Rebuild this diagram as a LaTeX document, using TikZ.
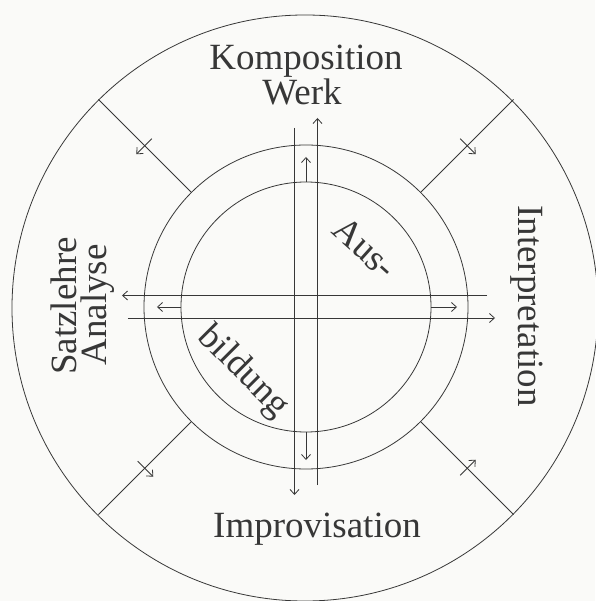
\documentclass[tikz,border=0pt]{standalone}
\usepackage{fontspec}
\setmainfont{Liberation Serif}
\usetikzlibrary{arrows.meta,calc}
\definecolor{ink}{RGB}{55,55,55}
\definecolor{paper}{RGB}{250,250,248}
\begin{document}
\begin{tikzpicture}[x=1pt,y=1pt,
  ln/.style={draw=ink, line width=0.8pt},
  arr/.style={ln, -{Straight Barb[length=5pt,width=9pt,line width=0.8pt]}},
  lbl/.style={font=\fontsize{37}{40}\selectfont, text=ink, inner sep=0pt},
]
\fill[paper] (-306,-294) rectangle (289,307);
\useasboundingbox (-306,-294) rectangle (289,307);

% circles
\draw[ln] (0,0) circle (125);
\draw[ln] (0,0) circle (162);
\draw[ln] (-1,-1) circle (293);

% cross lines
\coordinate (vlT) at (-11.5,179);  \coordinate (vlB) at (-11.5,-188);
\coordinate (vrT) at (11.5,189);   \coordinate (vrB) at (11.5,-178);
\coordinate (htL) at (-184,11.5);  \coordinate (htR) at (181,11.5);
\coordinate (hbL) at (-178,-11);   \coordinate (hbR) at (189,-11);
\draw[arr] (vlT) -- (vlB);
\draw[arr] (vrB) -- (vrT);
\draw[arr] (htR) -- (htL);
\draw[arr] (hbL) -- (hbR);

% small arrows from the inner circle
\coordinate (iN) at (0,125);  \coordinate (sN) at (0,150);
\coordinate (iS) at (0,-125); \coordinate (sS) at (0,-153);
\coordinate (iW) at (-125,0); \coordinate (sW) at (-149,0);
\coordinate (iE) at (125,0);  \coordinate (sE) at (151,0);
\draw[arr] (iN) -- (sN);
\draw[arr] (iS) -- (sS);
\draw[arr] (iW) -- (sW);
\draw[arr] (iE) -- (sE);

% diagonal spokes with crossing ticks
\foreach \a/\t in {135/225, 45/315, 225/315, 315/45}{
  \coordinate (m\a) at (\a:162);
  \coordinate (o\a) at (\a:293.5);
  \draw[ln] (m\a) -- (o\a);
  \coordinate (p\a) at (\a:228);
  \coordinate (ts\a) at ($(p\a)+(\t+180:10)$);
  \coordinate (te\a) at ($(p\a)+(\t:12)$);
  \draw[arr] (ts\a) -- (te\a);
}

% labels
\node[lbl, anchor=base] (komp) at (0,237) {Komposition};
\node[lbl, anchor=base] (werk) at (-4,202) {Werk};
\node[lbl, anchor=base] (impro) at (11,-230) {Improvisation};
\node[lbl, anchor=base, rotate=90] (satz) at (-229,1) {Satzlehre};
\node[lbl, anchor=base, rotate=90] (ana) at (-199,2) {Analyse};
\node[lbl, anchor=base, rotate=-90] (interp) at (212,1) {Interpretation};
\node[lbl, rotate=-42] (aus) at (59,59) {Aus-};
\node[lbl, rotate=-45] (bild) at (-63,-65) {bildung};
\end{tikzpicture}
\end{document}
